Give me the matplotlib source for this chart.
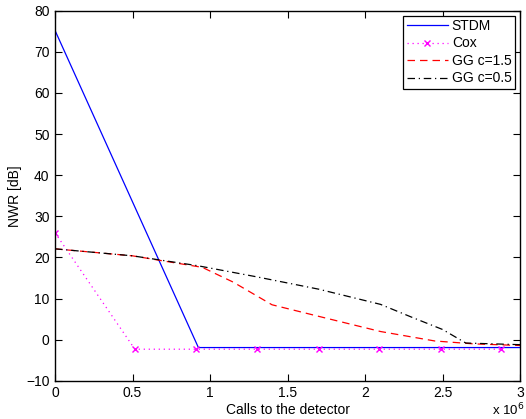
import numpy as np
import matplotlib
matplotlib.use('Agg')
from matplotlib import pyplot as plt

plt.rcParams['font.family'] = ['Liberation Sans', 'DejaVu Sans']

# calls to the detector, in units of 10^6
stdm_x = [0.0, 0.925, 3.0]
stdm_y = [75.2, -1.9, -1.9]

cox_x = [0.0, 0.515, 0.91, 1.30, 1.70, 2.09, 2.49, 2.88]
cox_y = [26.0, -2.3, -2.3, -2.3, -2.3, -2.3, -2.3, -2.3]

gg15_x = [0.0, 0.5, 0.95, 1.15, 1.4, 1.7, 2.1, 2.45, 2.7, 3.0]
gg15_y = [22.1, 20.4, 17.6, 14.0, 8.5, 5.7, 2.0, -0.3, -1.0, -1.4]

gg05_x = [0.0, 0.5, 0.92, 1.3, 1.7, 2.1, 2.3, 2.5, 2.65, 3.0]
gg05_y = [22.1, 20.4, 18.0, 15.3, 12.3, 8.6, 5.5, 2.5, -0.8, -1.2]

fig = plt.figure(figsize=(5.26, 4.19), dpi=100)
ax = fig.add_axes([0.1046, 0.091, 0.884, 0.8835])

ax.plot(stdm_x, stdm_y, color='#0000ff', lw=0.9, label='STDM')
ax.plot(cox_x, cox_y, color='#ff00ff', lw=0.9, ls=(0, (1, 3)), marker='x',
        ms=5, mew=1.0, label='Cox')
ax.plot(gg15_x, gg15_y, color='#ff0000', lw=0.9, ls=(0, (6, 4)), label='GG c=1.5')
ax.plot(gg05_x, gg05_y, color='black', lw=0.9, ls=(0, (6, 3, 1, 3)), label='GG c=0.5')

ax.set_xlim(0, 3)
ax.set_ylim(-10, 80)
ax.set_xticks(np.arange(0, 3.01, 0.5))
ax.set_xticklabels(['0', '0.5', '1', '1.5', '2', '2.5', '3'])
ax.set_yticks(np.arange(-10, 81, 10))
ax.set_yticklabels(['\u221210'] + [str(v) for v in range(0, 81, 10)])
ax.tick_params(direction='in', top=True, right=True, length=5, width=0.8,
               labelsize=10, pad=4)
for sp in ax.spines.values():
    sp.set_linewidth(1.0)

ax.set_xlabel('Calls to the detector', fontsize=10, labelpad=2)
ax.set_ylabel('NWR [dB]', fontsize=10, labelpad=3)
fig.text(0.997, 0.001, r'x 10$^{6}$', ha='right', va='bottom', fontsize=9.5)

leg = ax.legend(loc='upper right', fontsize=10, frameon=True, fancybox=False,
                edgecolor='black', framealpha=1, borderaxespad=0.35,
                handlelength=3.0, handletextpad=0.25, labelspacing=0.25,
                borderpad=0.25)
leg.get_frame().set_linewidth(0.9)

plt.savefig('out.png', dpi=100)
